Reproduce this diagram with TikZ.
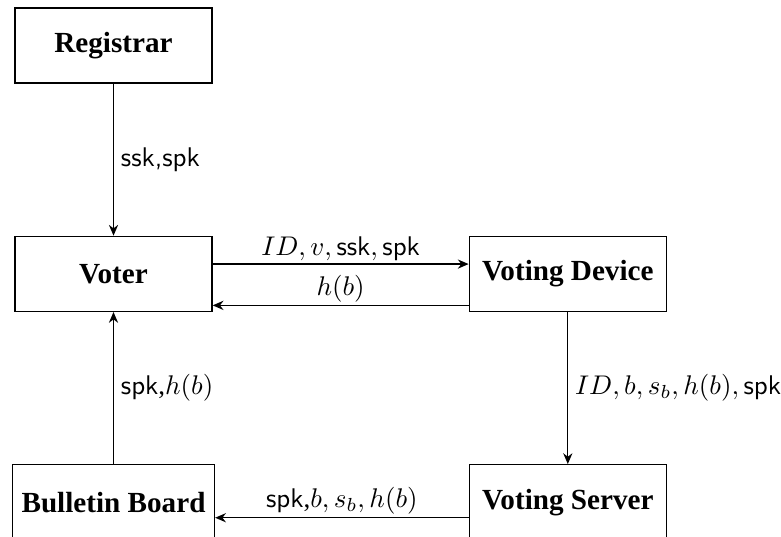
\documentclass[tikz,border=0pt]{standalone}
\usepackage[no-math]{fontspec}
\setmainfont{Liberation Serif}
\usepackage{amsmath}
\usepackage{tikz}
\usetikzlibrary{positioning, arrows.meta}

\begin{document}
\begin{tikzpicture}[
party/.style = {draw, minimum width = 72.96pt, minimum height = 27.78pt,
  font = \fontsize{10.8pt}{13pt}\selectfont\bfseries},
msg/.style = {font = \fontsize{10pt}{12pt}\selectfont},
node distance = 56.3pt and 94.8pt,
line width = 0.5pt,
>={Stealth[length = 4pt, width = 3.4pt]}
]
\useasboundingbox (-42.04pt,16.85pt) rectangle (247.22pt,-181.67pt);

\node[party] (reg) at (0,0) {Registrar};
\node[party, below = of reg] (voter) {Voter};
\node[party, right = of voter] (device) {Voting Device};
\node[party, below = of device] (server) {Voting Server};
\node[party, below = of voter] (board) {Bulletin Board};

\draw[->] (reg) -- node[msg, right, inner sep = 2.5pt] {\textsf{ssk,spk}} (voter);
\draw[->] ([yshift=3.63pt]voter.east) -- node[msg, above, inner sep = 1pt]
  {$ID, v, \textsf{ssk}, \textsf{spk}$} ([yshift=3.63pt]device.west);
\draw[->] ([yshift=-11.67pt]device.west) -- node[msg, above, inner sep = 1pt]
  {$h(b)$} ([yshift=-11.67pt]voter.east);
\draw[->] (device) -- node[msg, right, inner sep = 2.5pt] {$ID, b, s_b, h(b), \textsf{spk}$} (server);
\draw[->] ([yshift=-5.74pt]server.west) -- node[msg, above, inner sep = 1pt]
  {\textsf{spk},$b, s_b, h(b)$} ([yshift=-5.74pt]board.east);
\draw[->] (board) -- node[msg, right, inner sep = 2.5pt] {\textsf{spk},$h(b)$} (voter);
\end{tikzpicture}
\end{document}
